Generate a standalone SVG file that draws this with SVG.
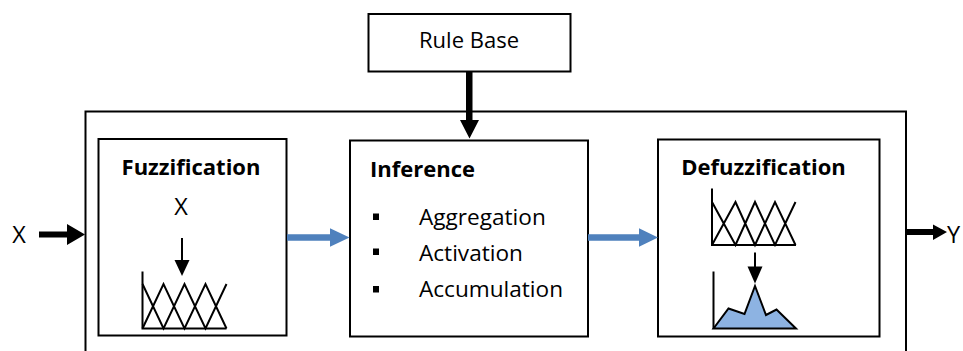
<svg xmlns="http://www.w3.org/2000/svg" width="963" height="351" viewBox="0 0 963 351">
<style>
.box{fill:#fff;stroke:#000;stroke-width:2}
.t{font-family:"Open Sans","Noto Sans","DejaVu Sans",sans-serif;font-size:22px;fill:#000}
.b{font-weight:bold}
.li{font-size:22.6px}
.xy{font-size:23.5px}
.ln{fill:none;stroke:#000;stroke-width:2}
.blk{fill:#000}
.blue{fill:#4F81BD}
</style>
<rect width="963" height="351" fill="#fff"/>
<g id="system">
<path class="ln" d="M85.5,360 V111.5 H906 V360"/>
</g>
<g id="rulebase">
<rect class="box" x="368.5" y="14" width="202" height="57.5"/>
<text class="t" x="469" y="48" text-anchor="middle">Rule Base</text>
</g>
<g id="fuzzification">
<rect class="box" x="98.5" y="139" width="188" height="196.5"/>
<text class="t b" x="191" y="175" text-anchor="middle">Fuzzification</text>
<text class="t xy" x="181" y="215" text-anchor="middle">X</text>
<line class="ln" x1="182" y1="238" x2="182" y2="262"/>
<polygon class="blk" points="174.5,260 189.5,260 182,276"/>
<path class="ln" d="M142.5,271.5 V328.5 H226.5"/>
<path class="ln" d="M142.5,284 L163.5,328.5 L184.5,284 L205.5,328.5 L226.5,284 M142.5,328.5 L163.5,284 L184.5,328.5 L205.5,284 L226.5,328.5"/>
</g>
<g id="inference">
<rect class="box" x="350" y="140.5" width="238" height="196"/>
<text class="t b" x="370" y="176.5">Inference</text>
<rect class="blk" x="373" y="213.5" width="6" height="6.5"/>
<rect class="blk" x="373" y="248.5" width="6" height="6.5"/>
<rect class="blk" x="373" y="286" width="6" height="6.5"/>
<text class="t li" x="419" y="225">Aggregation</text>
<text class="t li" x="419" y="260.5">Activation</text>
<text class="t li" x="419" y="296.5">Accumulation</text>
</g>
<g id="defuzzification">
<rect class="box" x="658" y="139.5" width="221.5" height="197"/>
<text class="t b" x="763.5" y="175" text-anchor="middle">Defuzzification</text>
<path class="ln" d="M712,188.5 V245 H796"/>
<path class="ln" d="M712,202 L735.5,245 L755,202 L775,245 L795.5,202 M712,245 L735.5,202 L755,245 L775,202 L795.5,245"/>
<line class="ln" x1="755" y1="252.5" x2="755" y2="268"/>
<polygon class="blk" points="747.5,266.5 762.5,266.5 755,283.5"/>
<polygon fill="#8DB3E2" stroke="#000" stroke-width="2" stroke-linejoin="miter" points="713.5,328.5 728.5,308.5 744.5,314 755,286 766,315 776.5,309.5 796,328.5"/>
<line class="ln" x1="713.5" y1="271.5" x2="713.5" y2="329"/>
</g>
<g id="input">
<text class="t xy" x="19" y="243" text-anchor="middle">X</text>
</g>
<g id="output">
<text class="t xy" x="947" y="243">Y</text>
</g>
<g id="connectors">
<polygon class="blk" points="466,71.5 472.5,71.5 472.5,120 479,120 469.5,138.5 460,120 466,120"/>
<polygon class="blk" points="39,231.5 67,231.5 67,224 85,234.5 67,245 67,237.5 39,237.5"/>
<polygon class="blk" points="906,229 933,229 933,224.5 947,232 933,240 933,235 906,235"/>
<polygon class="blue" points="287,234.3 330,234.3 330,228.3 349.5,237.5 330,246.7 330,240.7 287,240.7"/>
<polygon class="blue" points="588,234.3 639,234.3 639,228.3 658,237.5 639,246.7 639,240.7 588,240.7"/>
</g>
</svg>
